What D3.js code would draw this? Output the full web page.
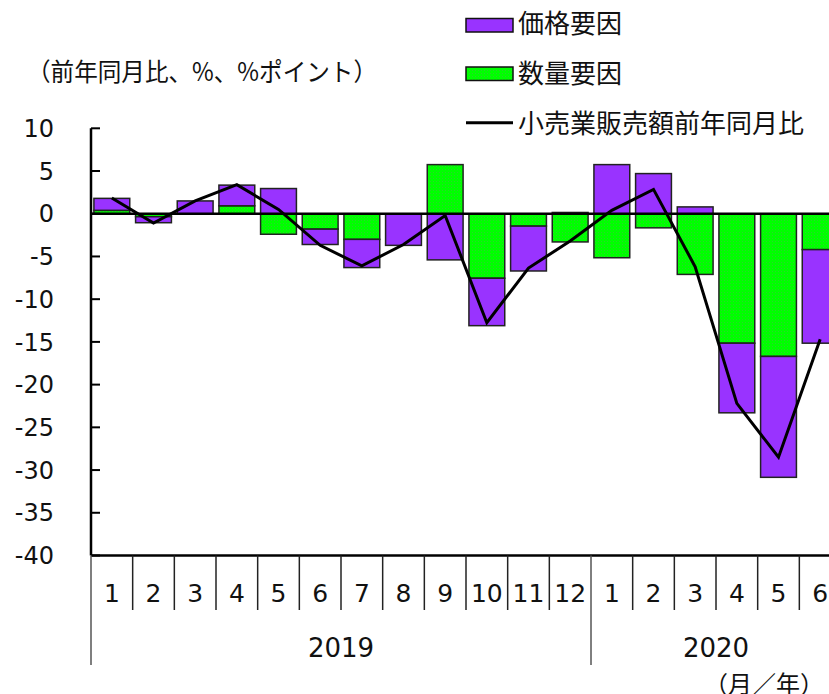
<!DOCTYPE html>
<html><head><meta charset="utf-8">
<script src="https://cdn.jsdelivr.net/npm/d3@7"></script>
<style>body{margin:0;background:#fff}svg{display:block}</style>
</head><body>
<svg id="c" width="829" height="694"></svg>
<script>
const months = ["1","2","3","4","5","6","7","8","9","10","11","12","1","2","3","4","5","6"];
const years = [{label:"2019", start:0, end:12},{label:"2020", start:12, end:18}];
const priceFactor =    [1.4, -0.7, 1.5, 2.42, 2.95, -1.8, -3.3, -3.7, -5.4, -5.55, -5.25, 0.15, 5.75, 4.7, 0.8, -8.15, -14.15, -10.95];
const quantityFactor = [0.4, -0.35, 0, 0.93, -2.4, -1.8, -3.0, 0, 5.75, -7.55, -1.45, -3.3, -5.15, -1.65, -7.1, -15.15, -16.7, -4.2];
const salesYoY =       [1.85, -1.1, 1.5, 3.4, 0.5, -3.7, -6.1, -3.6, -0.2, -12.75, -6.35, -3.2, 0.4, 2.85, -6.2, -22.2, -28.5, -14.7];
const yTicks = [10,5,0,-5,-10,-15,-20,-25,-30,-35,-40];
const legendLabels = ["価格要因","数量要因","小売業販売額前年同月比"];
const yTitle = "（前年同月比、%、%ポイント）";
const xTitle = "（月／年）";

const svg = d3.select("#c");
const purple = "#9933ff";
const defs = svg.append("defs");
const pat = defs.append("pattern").attr("id","g").attr("width",3).attr("height",3).attr("patternUnits","userSpaceOnUse");
pat.append("rect").attr("width",3).attr("height",3).attr("fill","#00ff00");
pat.append("rect").attr("x",1).attr("y",1).attr("width",1).attr("height",1).attr("fill","#2ed12e");

const x0 = 91, x1 = 91 + 41.667*18;
const x = d3.scaleBand().domain(d3.range(18)).range([x0, x1]).paddingInner(0.14).paddingOuter(0.07);
const y = d3.scaleLinear().domain([-40, 10]).range([555.5, 128.3]);
const step = x.step();

// bars
const g = svg.append("g");
function stack(i){
  const segs = [];
  let pos = 0, neg = 0;
  [[quantityFactor[i],"url(#g)"],[priceFactor[i],purple]].forEach(([v,f])=>{
    if (v >= 0){ segs.push({a:pos, b:pos+v, f}); pos += v; }
    else { segs.push({a:neg, b:neg+v, f}); neg += v; }
  });
  return segs;
}
d3.range(18).forEach(i=>{
  stack(i).forEach(s=>{
    if (s.a === s.b) return;
    g.append("rect")
      .attr("x", x(i)).attr("width", x.bandwidth())
      .attr("y", y(Math.max(s.a,s.b))).attr("height", Math.abs(y(s.a)-y(s.b)))
      .attr("fill", s.f).attr("stroke","#222").attr("stroke-width",1.5);
  });
});

// zero line & bottom axis
svg.append("line").attr("x1",x0).attr("x2",x1).attr("y1",y(0)).attr("y2",y(0)).attr("stroke","#000").attr("stroke-width",2.5);
svg.append("line").attr("x1",x0).attr("x2",x1).attr("y1",y(-40)).attr("y2",y(-40)).attr("stroke","#000").attr("stroke-width",2.5);

// line series
const line = d3.line().x((d,i)=>x(i)+x.bandwidth()/2).y(d=>y(d));
svg.append("path").datum(salesYoY).attr("d",line).attr("fill","none").attr("stroke","#000").attr("stroke-width",3).attr("stroke-linejoin","miter");

// y axis
svg.append("line").attr("x1",x0).attr("x2",x0).attr("y1",y(10)).attr("y2",y(-40)).attr("stroke","#000").attr("stroke-width",2.5);
yTicks.forEach(t=>{
  svg.append("line").attr("x1",x0).attr("x2",x0+9).attr("y1",y(t)).attr("y2",y(t)).attr("stroke","#000").attr("stroke-width",2);
  svg.append("text").attr("x",54).attr("y",y(t)).attr("dy","0.36em").attr("text-anchor","end")
    .attr("font-family","DejaVu Sans").attr("font-size",24).attr("fill","#111").text(t);
});

// category separators
for (let i=1;i<=18;i++){
  if (i===12) continue;
  const xx = x0 + i*step;
  svg.append("line").attr("x1",xx).attr("x2",xx).attr("y1",y(-40)).attr("y2",610).attr("stroke","#222").attr("stroke-width",1.5);
}
years.forEach(yr=>{
  const xx = x0 + yr.start*step;
  svg.append("line").attr("x1",xx).attr("x2",xx).attr("y1",y(-40)).attr("y2",665).attr("stroke","#555").attr("stroke-width",1.5);
  svg.append("text").attr("x", x0 + (yr.start+yr.end)/2*step).attr("y",648).attr("dy","0.36em").attr("text-anchor","middle")
    .attr("font-family","DejaVu Sans").attr("font-size",26).attr("fill","#111").text(yr.label);
});
months.forEach((m,i)=>{
  svg.append("text").attr("x", x(i)+x.bandwidth()/2).attr("y",593).attr("dy","0.36em").attr("text-anchor","middle")
    .attr("font-family","DejaVu Sans").attr("font-size",25).attr("fill","#111").text(m);
});

// titles
svg.append("text").attr("x",27).attr("y",72).attr("dy","0.36em").attr("font-family","Noto Sans CJK JP").attr("font-size",25)
  .attr("fill","#111").attr("textLength",350).attr("lengthAdjust","spacingAndGlyphs").text(yTitle);
svg.append("text").attr("x",704).attr("y",684).attr("dy","0.36em").attr("font-family","Noto Sans CJK JP").attr("font-size",24)
  .attr("fill","#111").text(xTitle);

// legend
const lg = svg.append("g");
lg.append("rect").attr("x",466).attr("y",18.5).attr("width",47).attr("height",13.5).attr("fill",purple).attr("stroke","#111").attr("stroke-width",1.5);
lg.append("rect").attr("x",466).attr("y",67).attr("width",47).attr("height",13.5).attr("fill","url(#g)").attr("stroke","#111").attr("stroke-width",1.5);
lg.append("line").attr("x1",466).attr("x2",513).attr("y1",122.7).attr("y2",122.7).attr("stroke","#000").attr("stroke-width",3);
[24,74,124].forEach((yy,i)=>{
  lg.append("text").attr("x",518).attr("y",yy).attr("dy","0.36em").attr("font-family","Noto Sans CJK JP").attr("font-size",26)
    .attr("fill","#111").text(legendLabels[i]);
});
</script>
</body></html>
